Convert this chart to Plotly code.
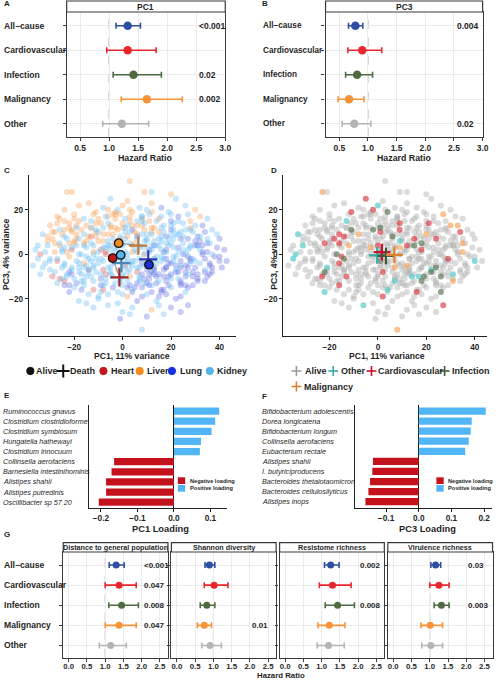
import plotly.graph_objects as go

W, H = 500, 680
FONT = "Liberation Sans, Arial, Helvetica, sans-serif"
INK = "#1f1f1f"
FRAME = "#3a3a3a"
GRID = "#ebebeb"

# ---- A / B / G : hazard ratios by cause of death ----
causes = ["All−cause", "Cardiovascular", "Infection", "Malignancy", "Other"]
cause_colors = ["#2d4ea2", "#e9262c", "#4d6b40", "#f79336", "#b4b4b4"]

pc1_hr = [1.32, 1.32, 1.42, 1.65, 1.22]
pc1_lo = [1.12, 0.96, 1.07, 1.21, 0.89]
pc1_hi = [1.54, 1.81, 1.90, 2.26, 1.68]
pc1_p = ["<0.001", "", "0.02", "0.002", ""]

pc3_hr = [0.78, 0.90, 0.81, 0.67, 0.76]
pc3_lo = [0.66, 0.65, 0.61, 0.48, 0.55]
pc3_hi = [0.91, 1.24, 1.08, 0.93, 1.05]
pc3_p = ["0.004", "", "", "", "0.02"]

g_titles = ["Distance to general population", "Shannon diversity",
            "Resistome richness", "Virulence richness"]
dist_hr = [1.30, 1.38, 1.45, 1.38, 1.15]
dist_lo = [1.11, 1.00, 1.10, 1.00, 0.84]
dist_hi = [1.52, 1.85, 1.91, 1.85, 1.58]
dist_p = ["<0.001", "0.047", "0.008", "0.047", ""]
shan_hr = [0.89, 1.02, 0.82, 0.75, 0.91]
shan_lo = [0.77, 0.75, 0.64, 0.56, 0.68]
shan_hi = [1.04, 1.40, 1.04, 0.95, 1.22]
shan_p = ["", "", "", "0.01", ""]
res_hr = [1.25, 1.30, 1.44, 1.21, 1.19]
res_lo = [1.08, 0.94, 1.10, 0.90, 0.88]
res_hi = [1.48, 1.81, 1.90, 1.64, 1.62]
res_p = ["0.002", "", "0.008", "", ""]
vir_hr = [1.16, 1.25, 1.32, 1.01, 1.03]
vir_lo = [1.03, 1.00, 1.12, 0.76, 0.78]
vir_hi = [1.30, 1.53, 1.53, 1.35, 1.35]
vir_p = ["0.03", "", "0.003", "", ""]

# ---- C / D : PCA scores (PC1, PC3) ----
pc1_scores = [
    -23, -21, 3, 9, 12, 20, -5, 2, 22, -18, -14, -8, 0, 7, 12, 16, 26, -24, 30, -2,
    -27, -20, -16, -11, -7, -3, 1, 4, 8, 11, 15, 19, 23, 27, 32, -24, -13, 6, 20, 35,
    -30, -26, -22, -19, -15, -11, -6, -3, 2, 4, 9, 12, 17, 20, 25, 28, 33, 37, -8, 11,
    -33, -28, -24, -21, -16, -13, -10, -4, -1, 3, 6, 10, 15, 18, 23, 26, 31, 34, 39, -19,
    -31, -26, -23, -15, -12, -6, -3, 1, 5, 9, 13, 16, 20, 24, 28, 32, 36, 40, -35, -20,
    -36, -31, -28, -24, -21, -16, -12, -8, -5, 0, 4, 7, 11, 15, 18, 23, 27, 30, 35, 42,
    -34, -30, -25, -22, -18, -14, -10, -7, -2, 2, 6, 9, 13, 17, 21, 25, 29, 33, 37, 43,
    -32, -27, -24, -19, -16, -12, -8, -4, 1, 4, 8, 12, 16, 20, 24, 28, 32, 36, 40, -37,
    -30, -25, -22, -18, -14, -11, -6, -2, 2, 6, 10, 13, 18, 22, 26, 30, 34, 37, -34, 41,
    -29, -25, -21, -17, -13, -9, -5, -1, 3, 7, 11, 15, 19, 23, 27, 31, 35, -27, 9, 29,
    -24, -20, -16, -12, -8, -4, 0, 4, 8, 12, 16, 20, 24, -14, -6, 2, 10, 18, 26, -10,
    -2, 6, 14, 22, -18, 4, 12, -6, 20, 27, 8, 3, -1, 17, 10, -12, 0, 15, 24, -15,
    -24, -19, -14, -12, -9, -6, -4, -1, 1, 3, 6, 8, 10, 12, 14, 16, 18, 20, 24, 28,
    -28, -23, -17, -15, -11, -8, -3, 0, 2, 4, 7, 9, 11, 13, 17, 19, 22, 26, 30, 33,
    -26, -21, -18, -13, -10, -7, -5, -2, 1, 3, 5, 8, 10, 13, 16, 18, 21, 25, 29, 34,
    -30, -25, -20, -16, -12, -9, -6, -3, 0, 2, 5, 7, 9, 12, 14, 17, 20, 23, 27, 31,
    -22, -18, -15, -11, -8, -5, -2, 0, 3, 6, 8, 11, 13, 15, 18, 21, 24, 27, 32, 36,
    -27, -23, -19, -14, -10, -7, -4, -1, 1, 4, 6, 9, 12, 14, 16, 19, 22, 26, 30, 38,
    -29, -24, -21, -17, -13, -9, -6, -2, 1, 5, 8, 11, 14, 17, 21, 24, 28, 31, 35, 39,
    -33, -27, -22, -18, -14, -10, -7, -3, 0, 3, 7, 10, 13, 16, 20, 23, 27, 30, 34, 37,
    -25, -21, -17, -13, -9, -5, -2, 2, 5, 8, 11, 14, 18, 21, 24, 27, 31, -31, 36, -19,
    -28, -24, -20, -16, -12, -8, -4, 0, 3, 6, 9, 12, 15, 18, 22, 25, 29, 33, -35, 40,
    -23, -19, -15, -11, -7, -3, 1, 4, 7, 10, 14, 17, 20, 23, 26, 29, -9, -1, 12, 19,
    -32, -26, -17, -13, -9, -5, -1, 2, 6, 9, 12, 16, 19, 22, 25, 28, 32, 35, -21, 8,
    -20, -16, -12, -8, -4, 0, 4, 8, 12, 16, 20, 24, 28, -26, -22, -10, -6, 3, 15, 26,
    -29, -22, -15, -11, -7, -3, 0, 3, 7, 10, 13, 17, 21, 24, 28, 31, 34, -18, -5, 13,
]
pc3_scores = [
    28, 28, 33, 28, 28, 27, 25, 24, 25, 22, 23, 21, 22, 21, 23, 21, 22, 20, 20, 20,
    17, 18, 16, 19, 17, 18, 16, 19, 17, 18, 16, 19, 17, 18, 17, 15, 15, 15, 15, 16,
    13, 11, 14, 12, 13, 11, 14, 12, 13, 11, 14, 12, 13, 11, 14, 12, 13, 11, 12, 15,
    9, 10, 8, 11, 9, 8, 10, 9, 8, 10, 8, 9, 10, 8, 9, 11, 8, 10, 9, 7,
    6, 5, 7, 6, 4, 6, 5, 7, 5, 6, 4, 6, 5, 7, 4, 6, 5, 7, 4, 5,
    2, 4, 1, 3, 2, 4, 1, 3, 2, 4, 1, 3, 2, 4, 1, 3, 2, 4, 1, 2,
    0, -2, 1, -1, 0, -2, 1, 0, -1, -2, 1, 0, -2, 1, -1, 0, -2, 1, 0, -3,
    -4, -3, -5, -3, -4, -5, -3, -4, -5, -3, -4, -5, -3, -4, -5, -3, -4, -5, -3, -5,
    -7, -6, -8, -6, -7, -8, -6, -7, -8, -6, -7, -8, -6, -7, -8, -6, -7, -8, -9, -6,
    -10, -11, -9, -12, -10, -11, -9, -12, -10, -11, -9, -12, -10, -11, -9, -12, -10, -13, -13, -14,
    -14, -15, -14, -16, -14, -15, -14, -16, -15, -14, -16, -15, -14, -18, -18, -19, -18, -18, -17, -20,
    -22, -21, -21, -20, -21, -24, -25, -23, -24, -23, -34, -27, -29, -27, -28, -24, -26, -23, -26, -22,
    11, 4, 8, -6, 14, 4, -10, 7, -3, 15, -13, 9, -4, 2, -10, 12, -2, 9, -12, 3,
    -8, 1, -9, 3, 10, -7, 3, -9, 8, -5, 4, 11, -11, 6, -7, 4, -5, -10, -3, 4,
    4, -6, 15, -3, 6, -11, 12, -3, 10, -7, 2, -9, 6, -6, 8, -12, 3, 5, -8, -2,
    -3, 9, -11, 5, -12, 2, 9, -13, 5, -12, 10, -2, 3, -8, 4, 10, -9, 1, 7, -9,
    12, -4, -10, -2, 6, -6, 11, -1, 5, -8, 13, 1, -2, 7, -6, 11, -3, -6, 8, -4,
    -2, -10, 13, -7, -4, 1, 7, -7, 1, 4, 13, -11, 9, -13, -1, 7, -8, 0, 6, -1,
    7, -12, 3, -16, 12, -9, 17, -17, 12, -15, 17, -14, 15, -16, 14, -13, 11, -11, 7, 3,
    -6, 14, -14, 7, -8, 16, -13, 19, -10, 17, -12, 20, -7, 17, -11, 15, -15, 13, -8, -6,
    2, 10, 0, 12, -2, 13, 3, -15, -3, 16, -6, -4, 2, -3, 10, -1, 4, 8, -9, -13,
    5, -4, 6, -6, 0, 9, -1, 12, -14, 7, 0, 10, -9, 5, -1, 8, -10, 0, -2, -1,
    -9, 9, -1, 14, -9, 16, -6, 13, -10, -13, -1, -10, 13, -8, -5, 10, -17, 18, -17, -14,
    1, -11, 11, 5, -14, -8, -11, 0, 9, -5, 4, 2, -4, 9, 2, -2, 2, 5, -7, -19,
    16, -12, 18, -16, 18, -18, -17, 15, 19, -17, 18, -19, 15, 16, -17, -19, 20, 20, -19, -14,
    10, 5, -5, 8, 3, 1, 14, -4, -6, 7, -9, -2, 7, -6, -4, 4, -12, -8, 4, 12,
]
# organ: H heart, L liver, U lung, K kidney
organ_codes = (
    "LLLLKLKLKLLKLKLUKLLK" "LLKLKLKLKKLKUKLLKKUK" "LKLKLKKLKUKLKUKLUKKL"
    "KLKLKHKLKKUKLUKKUUKL" "LKKLKKHKLKUKKUKUKUKL" "KKLKHKLKKKLKUKKUKUUU"
    "HKKLKKKHKKKLKUKUKUKU" "KHKKLKKKHKUKKUKUKUUK" "KKUKHKKLKKUKUKUUKUKU"
    "HKUKKUKKLKUKUKKUUKKU" "UKKHKUKKUKUKUKKLKUKK" "KUKUKKLKUUKKUKUKKKUK"
    "LKLKLKKLKLUKKKUKUKUK" "KLKKLHKKLKKLUKUKUUKU" "LKLKLKLKKKKUKUKUKKUU"
    "KLKLKHLKKKLKKUKKUKUU" "LKKKLKLKKHLKKKUKUUKU" "KKLKKHKKKLLUKUKKUKUU"
    "LHKUKKLKKUKUKUKUKUKU" "KLUKKLKLKLKKUKKKUKUU" "KLKLKLKUKLKKUKKUKLUU"
    "LKLKKLKLUKKLUKKKUUKU" "KLKLHLKLKUKUKUUKKLUU" "KHLKUKKKLKKKUKKUKUKU"
    "LKLHLKUKLUKULLUKLLUU" "LLKLKKLKKKUKKUKUUKKL"
)
# fate: A alive, O other, C cardiovascular, I infection, M malignancy
fate_codes = (
    "MAAAAACAAAAAOAAAAAAC" "AAACAAAIAAAAAMAAOAAA" "AAAAAIAAAACAAAAAMAAA"
    "OAAACAAAAAIAAAAAACAA" "AAAAMAAAAOAAACAAAAAA" "AOAAAAAAACAAAIAAAAMA"
    "OAAAAIAAAAAAAAAACAAA" "AAAACAAAAAAMAAAAAAOA" "AAIAAAAACAAAAOAAAAAA"
    "AAAACAAAAAAAIAAMAAAA" "AACAAAAOAAAAAAACAAIA" "AAAAAAAOACMAAAAAAAAA"
    "AACAAAAAIAAAAAOAAMAA" "AAAAAAMAAAACAAAAAIAA" "AOAAAAAACAAAAAAIAAAA"
    "AAACAAAAAAAAMAAAAAAO" "AAAAAAIAAAAAACAAAAAA" "ACAAAAAAOAAAAAAAIAAA"
    "AAAAAAAAIAAAAACAAAAA" "AAACAAAAAAOAAAAAAMAA" "AAIAAAAAAAAACAAAAAAA"
    "AAAAAMAAAAAAAIAAAAOA" "AACAAAAAAAAOAAAAAAAA" "AAAAAAAIAACAAAAAAMAA"
    "AAAAAAAAACAAAAOAAAAA" "ACAAAAAAMAAAAIAAAAAA"
)

organ_names = ["Heart", "Liver", "Lung", "Kidney"]
organ_keys = ["H", "L", "U", "K"]
organ_point_colors = ["#d04545", "#f4963f", "#5560e2", "#5cb6f2"]
organ_dot_colors = ["#c4161c", "#f08c1e", "#1a2fd6", "#57b5ee"]
organ_cross_colors = ["#9b2a2a", "#b87a3a", "#2a3ab8", "#4a86b8"]
alive_c1 = [-4.1, -1.6, 10.9, -0.8]
alive_c3 = [-1.7, 5.0, -4.7, -0.3]
death_c1 = [-1.3, 6.5, 10.6, -0.5]
death_c3 = [-10.4, 3.9, -2.3, -4.0]

fate_names = ["Alive", "Other", "Cardiovascular", "Infection", "Malignancy"]
fate_keys = ["A", "O", "C", "I", "M"]
fate_point_colors = ["#b0b0b0", "#4cc6c6", "#d8363f", "#56704c", "#f2a456"]
fate_cross_colors = ["#9a9a9a", "#39a9a9", "#c8102e", "#3e5a34", "#d9822b"]
fate_c1 = [1.0, -0.3, 1.7, 3.3, 6.8]
fate_c3 = [-0.5, -0.5, 1.0, -0.7, -0.3]

# ---- E / F : top loadings ----
e_taxa = ["Ruminococcus gnavus", "Clostridium clostridioforme", "Clostridium symbiosum",
          "Hungatella hathewayi", "Clostridium innocuum", "Collinsella aerofaciens",
          "Barnesiella intestinihominis", "Alistipes shahii", "Alistipes putredinis",
          "Oscillibacter sp 57 20"]
e_load = [0.124, 0.113, 0.103, 0.074, 0.071, -0.164, -0.171, -0.186, -0.186, -0.206]
f_taxa = ["Bifidobacterium adolescentis", "Dorea longicatena", "Bifidobacterium longum",
          "Collinsella aerofaciens", "Eubacterium rectale", "Alistipes shahii",
          "I. butyriciproducens", "Bacteroides thetaiotaomicron",
          "Bacteroides cellulosilyticus", "Alistipes inops"]
f_load = [0.205, 0.162, 0.159, 0.153, 0.142, -0.140, -0.142, -0.149, -0.154, -0.163]
NEG, POS = "#c3121c", "#52b5f5"

fig = go.Figure()
axes = {}
shapes = []
annos = []


def px(x):
    return x / W


def py(y):
    return 1 - y / H


def names(n):
    s = "" if n == 1 else str(n)
    return "x" + s, "y" + s, "xaxis" + s, "yaxis" + s


def label(s, x, y, size, xanchor="center", yref="paper", bold=True, italic=False, angle=0):
    if bold:
        s = "<b>" + s + "</b>"
    if italic:
        s = "<i>" + s + "</i>"
    annos.append(dict(text=s, x=px(x), y=py(y) if yref == "paper" else y,
                      xref="paper", yref=yref, showarrow=False, xanchor=xanchor,
                      yanchor="middle", textangle=angle,
                      font=dict(size=size, color=INK, family=FONT)))


def minus(v, fmt="{:.1f}"):
    return fmt.format(v).replace("-", "−")


def forest(n, left, right, top, bottom, strip_top, strip_text, strip_size,
           xrange, yrange, ticks, hr, lo, hi, pvals, p_at, msize, pfont, tfont, standoff=0):
    xr, yr, xk, yk = names(n)
    frame = dict(showline=True, mirror=True, linecolor=FRAME, linewidth=1.3,
                 showgrid=True, gridcolor=GRID, gridwidth=1, zeroline=False,
                 ticks="outside", ticklen=3, tickcolor=FRAME, tickwidth=1)
    axes[xk] = dict(domain=[px(left), px(right)], range=xrange, anchor=yr,
                    tickvals=ticks, ticktext=["{:.1f}".format(t) for t in ticks],
                    ticklabelstandoff=standoff,
                    tickfont=dict(size=tfont, color=INK, weight="bold"), **frame)
    axes[yk] = dict(domain=[py(bottom), py(top)], range=yrange, anchor=xr,
                    tickvals=[1, 2, 3, 4, 5], showticklabels=False, **frame)
    shapes.append(dict(type="line", xref=xr, yref=yr + " domain", x0=1, x1=1, y0=0, y1=1,
                       layer="below", line=dict(color="#a8a8a8", width=1, dash="dash")))
    for i in range(5):
        row = 5 - i
        fig.add_trace(go.Scatter(
            x=[hr[i]], y=[row], xaxis=xr, yaxis=yr, mode="markers",
            marker=dict(color=cause_colors[i], size=msize),
            error_x=dict(type="data", symmetric=False, array=[hi[i] - hr[i]],
                         arrayminus=[hr[i] - lo[i]], color=cause_colors[i],
                         thickness=1.6, width=3)))
        if pvals[i]:
            annos.append(dict(text="<b>" + pvals[i] + "</b>", x=p_at, y=row, xref=xr, yref=yr,
                              showarrow=False, xanchor="left", yanchor="middle",
                              font=dict(size=pfont, color=INK, family=FONT)))
    shapes.append(dict(type="rect", xref="paper", yref="paper", x0=px(left), x1=px(right),
                       y0=py(top), y1=py(strip_top), fillcolor="white",
                       line=dict(color=FRAME, width=1.2)))
    label(strip_text, (left + right) / 2, (top + strip_top) / 2 + 0.3, strip_size)
    return yr


def row_labels(yr, x, size):
    for i, c in enumerate(causes):
        label(c, x, 5 - i, size, xanchor="left", yref=yr)


def scatter_axes(n, left, right, top, bottom, xrange, yrange):
    xr, yr, xk, yk = names(n)
    common = dict(showgrid=False, zeroline=False, showline=True, linecolor="#222",
                  linewidth=1, ticks="outside", ticklen=3, tickcolor="#222",
                  tickfont=dict(size=8.2, color=INK, weight="bold"))
    xt = [-20, 0, 20, 40]
    yt = [-20, 0, 20]
    axes[xk] = dict(domain=[px(left), px(right)], range=xrange, anchor=yr, tickvals=xt,
                    ticktext=[minus(t, "{:d}") for t in xt], **common)
    axes[yk] = dict(domain=[py(bottom), py(top)], range=yrange, anchor=xr, tickvals=yt,
                    ticktext=[minus(t, "{:d}") for t in yt], **common)
    return xr, yr


def loading_panel(n, left, right, top, bottom, xrange, ticks, taxa, load, label_x):
    xr, yr, xk, yk = names(n)
    axes[xk] = dict(domain=[px(left), px(right)], range=xrange, anchor=yr, tickvals=ticks,
                    ticktext=["0.0" if t == 0 else minus(t) for t in ticks],
                    showgrid=False, zeroline=True, zerolinecolor="#111", zerolinewidth=1.2,
                    showline=True, linecolor="#222", linewidth=1, ticks="outside", ticklen=3,
                    tickcolor="#222", layer="above traces", ticklabelstandoff=-1,
                    tickfont=dict(size=8.3, color=INK, weight="bold"))
    axes[yk] = dict(domain=[py(bottom), py(top)], range=[0.4, 10.6], anchor=xr,
                    showticklabels=False, showgrid=False, zeroline=False, showline=True,
                    linecolor="#222", linewidth=1, ticks="")
    rows = list(range(len(taxa), 0, -1))
    fig.add_trace(go.Bar(x=load, y=rows, orientation="h", xaxis=xr, yaxis=yr, width=0.72,
                         marker=dict(color=[NEG if v < 0 else POS for v in load], line_width=0)))
    for t, r in zip(taxa, rows):
        label(t, label_x, r, 7.2, xanchor="left", yref=yr, bold=False, italic=True)


# ---------------- A and B ----------------
ya = forest(1, 67.5, 228, 12, 136.7, 1, "PC1", 8.5, [0.27, 3.0], [0.47, 5.56],
            [0.5, 1.0, 1.5, 2.0, 2.5, 3.0], pc1_hr, pc1_lo, pc1_hi, pc1_p, 2.52, 8.5, 8.5, 8.5)
row_labels(ya, 2, 8.6)
yb = forest(2, 329.5, 488.5, 12, 136.7, 1, "PC3", 8.5, [0.26, 3.0], [0.47, 5.56],
            [0.5, 1.0, 1.5, 2.0, 2.5, 3.0], pc3_hr, pc3_lo, pc3_hi, pc3_p, 2.52, 8.5, 8.5, 8.5)
row_labels(yb, 264, 8.2)
label("Hazard Ratio", 147, 158, 8.8)
label("Hazard Ratio", 409, 158, 8.8)

# ---------------- C ----------------
xc, yc = scatter_axes(3, 29, 239, 175, 336, [-38.8, 46.9], [-36.8, 35.7])
for key, col in zip(organ_keys, organ_point_colors):
    pts = [(a, b) for a, b, k in zip(pc1_scores, pc3_scores, organ_codes) if k == key]
    fig.add_trace(go.Scatter(x=[p[0] for p in pts], y=[p[1] for p in pts], xaxis=xc, yaxis=yc,
                             mode="markers", marker=dict(color=col, size=6, opacity=0.33,
                                                         line_width=0)))
for i in range(4):
    fig.add_trace(go.Scatter(x=[alive_c1[i], death_c1[i]], y=[alive_c3[i], death_c3[i]],
                             xaxis=xc, yaxis=yc, mode="lines",
                             line=dict(color="#8a8a8a", width=1)))
fig.add_trace(go.Scatter(x=death_c1, y=death_c3, xaxis=xc, yaxis=yc, mode="markers",
                         marker=dict(symbol="cross-thin", size=13,
                                     line=dict(width=2.2, color=organ_cross_colors))))
fig.add_trace(go.Scatter(x=alive_c1, y=alive_c3, xaxis=xc, yaxis=yc, mode="markers",
                         marker=dict(size=8.5, color=organ_dot_colors,
                                     line=dict(width=1.3, color="#111"))))
label("PC1, 11% variance", 134, 355.5, 8.6)
label("PC3, 4% variance", 6, 254, 8.6, angle=-90)

# ---------------- D ----------------
xd, yd = scatter_axes(4, 286.7, 493, 175, 336, [-39.1, 45.1], [-36.8, 35.7])
for key, col in zip(fate_keys, fate_point_colors):
    pts = [(a, b) for a, b, k in zip(pc1_scores, pc3_scores, fate_codes) if k == key]
    fig.add_trace(go.Scatter(x=[p[0] for p in pts], y=[p[1] for p in pts], xaxis=xd, yaxis=yd,
                             mode="markers",
                             marker=dict(color=col, size=6,
                                         opacity=0.45 if key == "A" else 0.65, line_width=0)))
fig.add_trace(go.Scatter(x=fate_c1, y=fate_c3, xaxis=xd, yaxis=yd, mode="markers",
                         marker=dict(symbol="cross-thin", size=12,
                                     line=dict(width=2.2, color=fate_cross_colors))))
label("PC1, 11% variance", 392, 355.5, 8.6)
label("PC3, 4% variance", 277, 254, 8.6, angle=-90)


# ---------------- legends C / D ----------------
def dot(cx, cy, r, color, outline):
    shapes.append(dict(type="circle", xref="paper", yref="paper", x0=px(cx - r), x1=px(cx + r),
                       y0=py(cy + r), y1=py(cy - r), fillcolor=color,
                       line=dict(color=outline, width=1)))


def cross(cx, cy, half, color, width):
    shapes.append(dict(type="line", xref="paper", yref="paper", x0=px(cx - half), x1=px(cx + half),
                       y0=py(cy), y1=py(cy), line=dict(color=color, width=width)))
    shapes.append(dict(type="line", xref="paper", yref="paper", x0=px(cx), x1=px(cx),
                       y0=py(cy - half), y1=py(cy + half), line=dict(color=color, width=width)))


LY = 371
dot(30.7, LY, 3.7, "#111", "#111")
label("Alive", 34.5, LY, 9, xanchor="left")
cross(64, LY, 6.5, "#111", 2)
label("Death", 69, LY, 9, xanchor="left")
for cx, tx, name, col in zip([104.7, 141.3, 174, 212.3], [110, 146.5, 180, 217.3],
                             ["Heart", "Liver", "Lung", "Kidney"],
                             ["#c4161c", "#f5891a", "#1a2fe0", "#57b5ee"]):
    dot(cx, LY, 3.7, col, col)
    label(name, tx, LY, 9, xanchor="left")

for cx, cy, tx, name, col in zip([300, 337.3, 376, 450, 300], [LY, LY, LY, LY, 386.5],
                                 [306.5, 343, 381, 455.5, 306],
                                 fate_names, fate_cross_colors):
    cross(cx, cy, 5, col, 1.6)
    label(name, tx, cy, 9, xanchor="left")

# ---------------- E / F ----------------
loading_panel(5, 90, 230, 405, 508.3, [-0.233, 0.146], [-0.2, -0.1, 0.0, 0.1], e_taxa, e_load, 1.5)
loading_panel(6, 359.3, 498.3, 405, 507.7, [-0.195, 0.225], [-0.1, 0.0, 0.1, 0.2], f_taxa, f_load, 263)
label("PC1 Loading", 162, 528.5, 9.3)
label("PC3 Loading", 433, 528.5, 9.3)
for lx in [180, 441.7]:
    for y0, col, txt in [(477.3, NEG, "Negative loading"), (485, POS, "Positive loading")]:
        shapes.append(dict(type="rect", xref="paper", yref="paper", x0=px(lx), x1=px(lx + 7.4),
                           y0=py(y0 + 6.7), y1=py(y0), fillcolor=col, line_width=0))
        label(txt, lx + 10, y0 + 3.4, 5.6, xanchor="left")

# ---------------- G ----------------
g_boxes = [(64, 170), (173.5, 279.5), (283, 389), (392.5, 498.5)]
g_sets = [(dist_hr, dist_lo, dist_hi, dist_p), (shan_hr, shan_lo, shan_hi, shan_p),
          (res_hr, res_lo, res_hi, res_p), (vir_hr, vir_lo, vir_hi, vir_p)]
g_y = None
for k, ((l, r), (hr, lo, hi, pv), title) in enumerate(zip(g_boxes, g_sets, g_titles)):
    yr = forest(7 + k, l, r, 552, 657.5, 542.7, title, 7.2, [-0.15, 2.72], [0.4, 5.65],
                [0.0, 0.5, 1.0, 1.5, 2.0, 2.5], hr, lo, hi, pv, 2.0, 7, 8, 7.8, standoff=-2)
    if k == 0:
        g_y = yr
row_labels(g_y, 2, 8.6)
label("Hazard Ratio", 284, 675.5, 7.8)

# panel letters
for s, x, y in [("A", 2, 4), ("B", 263, 4), ("C", 2, 170), ("D", 272, 170),
                ("E", 2, 395), ("F", 263, 396), ("G", 2, 534)]:
    label(s, x, y, 8, xanchor="left")

fig.update_layout(
    width=W, height=H, margin=dict(l=0, r=0, t=0, b=0),
    paper_bgcolor="white", plot_bgcolor="white", showlegend=False,
    font=dict(family=FONT, color=INK), bargap=0.28,
    shapes=shapes, annotations=annos, **axes,
)

# the page body has a default 8px margin; drop it so the figure sits at 0,0
fig.write_html("out.html", config={"displayModeBar": False},
               post_script="document.body.style.margin = '0';")
